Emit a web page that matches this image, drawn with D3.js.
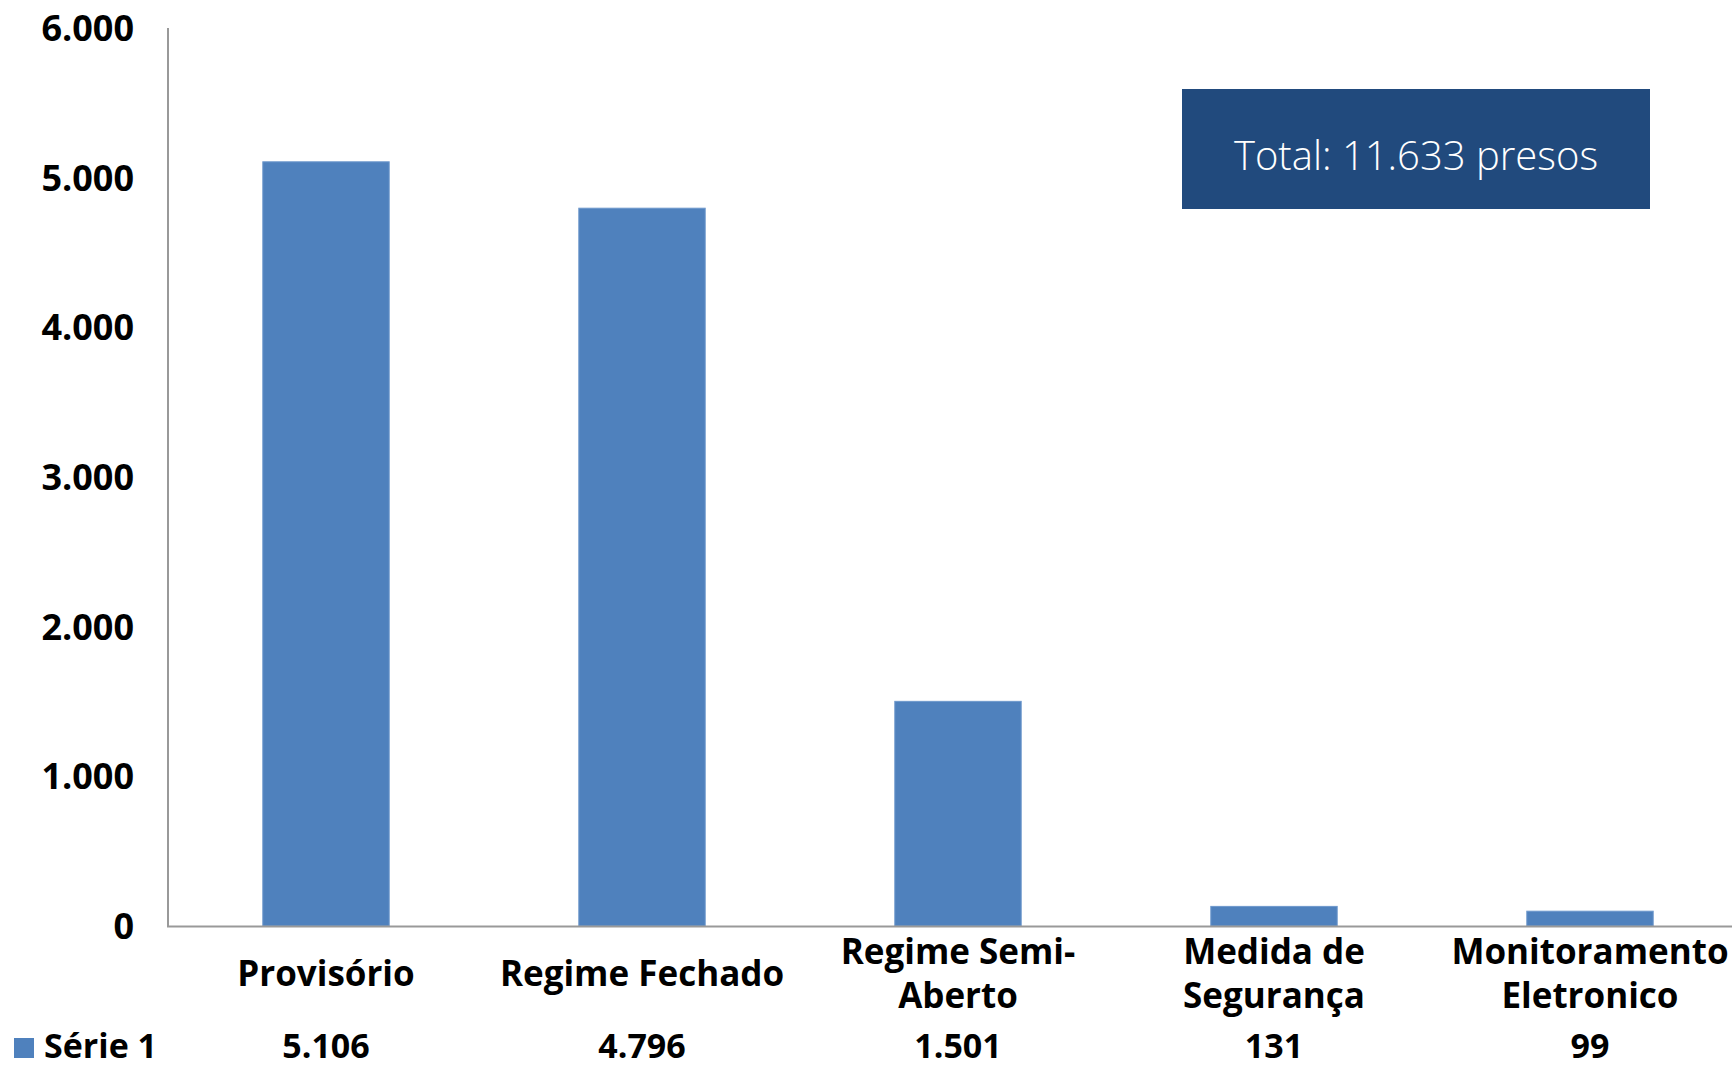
<!DOCTYPE html>
<html>
<head>
<meta charset="utf-8">
<script src="https://cdn.jsdelivr.net/npm/d3@7"></script>
<style>
  body { margin: 0; background: #fff; }
  svg { display: block; font-family: "Open Sans", sans-serif; }
</style>
</head>
<body>
<svg id="chart" width="1732" height="1068"></svg>
<script>
// data
const categories = [["Provisório"], ["Regime Fechado"], ["Regime Semi-", "Aberto"], ["Medida de", "Segurança"], ["Monitoramento", "Eletronico"]];
const values = [5106, 4796, 1501, 131, 99];
const valueLabels = ["5.106", "4.796", "1.501", "131", "99"];
const yTicks = [0, 1000, 2000, 3000, 4000, 5000, 6000];
const seriesName = "Série 1";
const totalText = "Total: 11.633 presos";

const width = 1732, height = 1068;
const svg = d3.select("#chart");
const barColor = "#4f81bd";

const x = d3.scaleBand()
  .domain(d3.range(values.length))
  .range([168, 1748])
  .paddingInner(0.6)
  .paddingOuter(0.3);

const y = d3.scaleLinear().domain([0, 6000]).range([926, 28]);

const fmt = d3.formatLocale({decimal: ",", thousands: ".", grouping: [3], currency: ["", ""]}).format(",d");

// y tick labels
svg.append("g")
  .selectAll("text")
  .data(yTicks)
  .enter()
  .append("text")
  .attr("x", 134)
  .attr("y", d => y(d))
  .attr("dy", "0.36em")
  .attr("text-anchor", "end")
  .style("font-size", "36px")
  .style("font-weight", "bold")
  .text(d => fmt(d));

// bars
svg.append("g")
  .selectAll("rect")
  .data(values)
  .enter()
  .append("rect")
  .attr("x", (d, i) => x(i))
  .attr("y", d => y(d))
  .attr("width", x.bandwidth())
  .attr("height", d => y(0) - y(d))
  .attr("fill", barColor)
  .attr("stroke", "#6d98cc")
  .attr("stroke-width", 1);

// axes lines
svg.append("line")
  .attr("x1", 168).attr("x2", 168)
  .attr("y1", y(6000)).attr("y2", y(0))
  .attr("stroke", "#999").attr("stroke-width", 2);
svg.append("line")
  .attr("x1", 167).attr("x2", width)
  .attr("y1", y(0) + 0.5).attr("y2", y(0) + 0.5)
  .attr("stroke", "#999").attr("stroke-width", 2);

// category labels
const catG = svg.append("g");
categories.forEach((lines, i) => {
  const cx = x(i) + x.bandwidth() / 2;
  const t = catG.append("text")
    .attr("text-anchor", "middle")
    .style("font-size", "35px")
    .style("font-weight", "bold");
  const y0 = lines.length === 1 ? 986 : 964;
  lines.forEach((ln, j) => {
    t.append("tspan").attr("x", cx).attr("y", y0 + j * 44).text(ln);
  });
});

// data table row
svg.append("rect")
  .attr("x", 14).attr("y", 1038)
  .attr("width", 20).attr("height", 20)
  .attr("fill", barColor);
svg.append("text")
  .attr("x", 44).attr("y", 1058)
  .style("font-size", "34px")
  .style("font-weight", "bold")
  .text(seriesName);
svg.append("g")
  .selectAll("text")
  .data(valueLabels)
  .enter()
  .append("text")
  .attr("x", (d, i) => x(i) + x.bandwidth() / 2)
  .attr("y", 1058)
  .attr("text-anchor", "middle")
  .style("font-size", "34px")
  .style("font-weight", "bold")
  .text(d => d);

// total box
svg.append("rect")
  .attr("x", 1182).attr("y", 89)
  .attr("width", 468).attr("height", 120)
  .attr("fill", "#214a7d");
svg.append("text")
  .attr("x", 1416).attr("y", 170)
  .attr("text-anchor", "middle")
  .attr("fill", "#fff")
  .style("font-size", "40px")
  .style("font-weight", 300)
  .text(totalText);
</script>
</body>
</html>
